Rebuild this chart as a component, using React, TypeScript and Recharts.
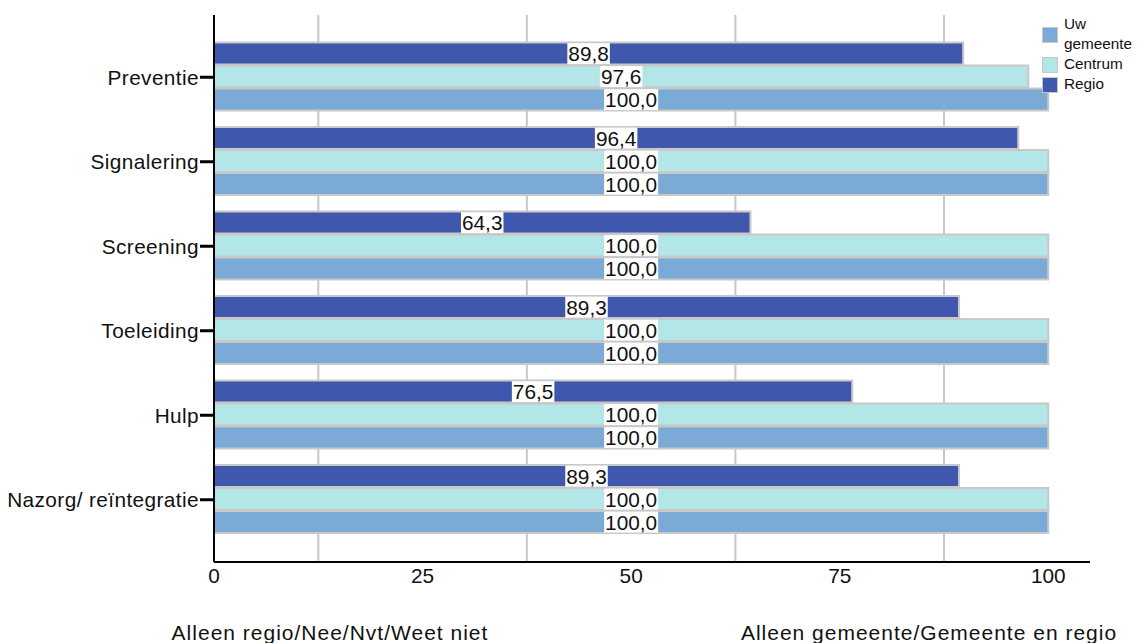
import React from 'react';
import { BarChart, Bar, XAxis, YAxis, CartesianGrid, LabelList } from 'recharts';

const categories = ['Preventie', 'Signalering', 'Screening', 'Toeleiding', 'Hulp', 'Nazorg/ reïntegratie'];
const regio = [89.8, 96.4, 64.3, 89.3, 76.5, 89.3];
const centrum = [97.6, 100, 100, 100, 100, 100];
const uwGemeente = [100, 100, 100, 100, 100, 100];
const xTicks = [0, 25, 50, 75, 100];
const gridValues = [12.5, 37.5, 62.5, 87.5];
const bottomLabels = ['Alleen regio/Nee/Nvt/Weet niet', 'Alleen gemeente/Gemeente en regio'];

const data = categories.map((name, i) => ({
  name,
  regio: regio[i],
  centrum: centrum[i],
  uw: uwGemeente[i],
}));

const FONT = '"Liberation Sans", Arial, sans-serif';
const FS = 20.8;
const COLORS = { regio: '#3F58AD', centrum: '#B3E6E6', uw: '#7BAAD6' };
const STROKE = '#C8C8C8';

const fmt = (v: number) => v.toFixed(1).replace('.', ',');

const textWidth = (s: string) => {
  let w = 0;
  for (const c of s) w += c === ',' ? 0.278 : 0.556;
  return w * FS;
};

const ValueLabel = (props: any) => {
  const { x, y, width, height, value } = props;
  const s = fmt(Number(value));
  const w = textWidth(s) + 2;
  const cx = Number(x) + Number(width) / 2;
  const cy = Number(y) + Number(height) / 2;
  return (
    <g>
      <rect x={cx - w / 2} y={Number(y) + 0.5} width={w} height={Number(height) - 1} fill="#fff" />
      <text x={cx} y={cy} dy={FS * 0.37} textAnchor="middle" fontSize={FS} fontFamily={FONT} fill="#111">
        {s}
      </text>
    </g>
  );
};

const legendItems = [
  { lines: ['Uw', 'gemeente'], color: COLORS.uw },
  { lines: ['Centrum'], color: COLORS.centrum },
  { lines: ['Regio'], color: COLORS.regio },
];

const Legend = () => {
  let top = 14;
  return (
    <div style={{ position: 'absolute', left: 1042, top: 0, fontFamily: FONT, fontSize: 15.3, color: '#111' }}>
      {legendItems.map((it, i) => {
        const h = it.lines.length * 20;
        const el = (
          <div key={i} style={{ position: 'absolute', top, left: 0, height: h, width: 110 }}>
            <div
              style={{
                position: 'absolute',
                left: 0,
                top: h / 2 - 7,
                width: 14,
                height: 14,
                background: it.color,
                border: `1px solid ${STROKE}`,
              }}
            />
            <div style={{ position: 'absolute', left: 22, top: 0, lineHeight: '20px', whiteSpace: 'nowrap' }}>
              {it.lines.map((l, j) => (
                <div key={j}>{l}</div>
              ))}
            </div>
          </div>
        );
        top += h;
        return el;
      })}
    </div>
  );
};

export default function App() {
  return (
    <div style={{ position: 'absolute', left: 0, top: 0, width: 1144, height: 643, background: '#fff', overflow: 'hidden' }}>
      <BarChart
        width={1144}
        height={643}
        data={data}
        layout="vertical"
        margin={{ top: 15, right: 54, left: 0, bottom: 0 }}
        barCategoryGap="9%"
        barGap={1}
        style={{ fontFamily: FONT }}
      >
        <CartesianGrid horizontal={false} vertical verticalValues={gridValues} stroke={STROKE} strokeWidth={2} />
        <XAxis
          type="number"
          domain={[0, 105]}
          ticks={xTicks}
          tickLine={false}
          tickSize={4}
          tickMargin={2}
          height={81}
          axisLine={{ stroke: '#000', strokeWidth: 2 }}
          tick={{ fontSize: FS, fill: '#111', fontFamily: FONT }}
          interval={0}
        />
        <YAxis
          type="category"
          dataKey="name"
          width={214}
          tickSize={14}
          tickMargin={1}
          tickLine={{ stroke: '#000', strokeWidth: 3 }}
          axisLine={{ stroke: '#000', strokeWidth: 2 }}
          padding={{ top: 20, bottom: 20 }}
          tick={{ fontSize: FS, fill: '#111', fontFamily: FONT, letterSpacing: 0.4 }}
          interval={0}
        />
        <Bar dataKey="regio" name="Regio" fill={COLORS.regio} stroke={STROKE} strokeWidth={2} isAnimationActive={false}>
          <LabelList dataKey="regio" content={<ValueLabel />} />
        </Bar>
        <Bar dataKey="centrum" name="Centrum" fill={COLORS.centrum} stroke={STROKE} strokeWidth={2} isAnimationActive={false}>
          <LabelList dataKey="centrum" content={<ValueLabel />} />
        </Bar>
        <Bar dataKey="uw" name="Uw gemeente" fill={COLORS.uw} stroke={STROKE} strokeWidth={2} isAnimationActive={false}>
          <LabelList dataKey="uw" content={<ValueLabel />} />
        </Bar>
        <text x={330} y={640} textAnchor="middle" fontSize={21} letterSpacing={1} fontFamily={FONT} fill="#111">
          {bottomLabels[0]}
        </text>
        <text x={929} y={640} textAnchor="middle" fontSize={21} letterSpacing={1} fontFamily={FONT} fill="#111">
          {bottomLabels[1]}
        </text>
      </BarChart>
      <Legend />
    </div>
  );
}
